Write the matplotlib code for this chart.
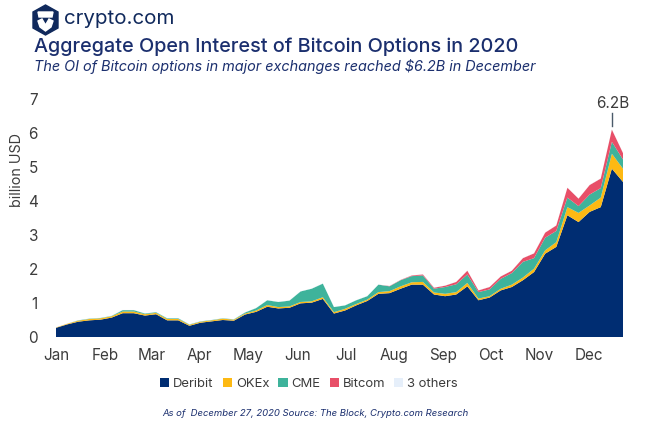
import matplotlib
matplotlib.use("Agg")
import matplotlib.pyplot as plt
import numpy as np
from matplotlib.patches import Polygon

W, H = 646, 432
FONT = "Inter"

months = ["Jan", "Feb", "Mar", "Apr", "May", "Jun", "Jul", "Aug", "Sep", "Oct", "Nov", "Dec"]
month_weeks = [0, 4.4, 8.6, 12.9, 17.3, 21.7, 26.1, 30.4, 34.8, 39.1, 43.5, 47.9]
yticks = [0, 1, 2, 3, 4, 5, 6, 7]
names = ["Deribit", "OKEx", "CME", "Bitcom", "3 others"]
colors = ["#002d72", "#fdb913", "#3eb39b", "#e84f68", "#e6effa"]

# weekly values, billion USD
deribit = [.27, .37, .45, .49, .51, .57, .70, .70, .63, .67, .49, .49, .33, .42, .46, .50, .48, .66,
           .74, .89, .84, .86, .99, 1.01, 1.12, .69, .78, .93, 1.06, 1.27, 1.29, 1.42, 1.54, 1.54,
           1.25, 1.20, 1.25, 1.49, 1.08, 1.16, 1.37, 1.47, 1.67, 1.91, 2.45, 2.65, 3.58, 3.38, 3.68,
           3.82, 4.95, 4.56]
okex = [.01, .02, .03, .04, .04, .04, .05, .05, .04, .04, .04, .04, .03, .03, .03, .04, .03, .03,
        .04, .05, .04, .04, .04, .04, .05, .04, .05, .04, .04, .05, .06, .07, .07, .08,
        .06, .07, .07, .10, .05, .04, .05, .07, .08, .10, .10, .14, .24, .27, .19, .28, .44, .39]
cme = [0, 0, .01, .01, .01, .01, .04, .04, .02, .02, .02, .02, .01, .01, .01, .01, .01, .03,
       .07, .14, .15, .17, .31, .37, .40, .15, .10, .11, .10, .22, .14, .18, .18, .19,
       .11, .20, .23, .25, .19, .20, .29, .34, .46, .31, .37, .33, .28, .20, .32, .28, .35, .27]
bitcom = [0, 0, 0, 0, 0, 0, 0, 0, 0, 0, 0, 0, 0, 0, 0, 0, 0, 0,
          0, 0, 0, 0, 0, 0, 0, 0, 0, 0, 0, 0, .01, .01, .02, .03,
          .03, .04, .07, .11, .05, .07, .07, .07, .11, .14, .15, .16, .29, .22, .28, .28, .36, .19]
others = [.005] * 52

NAVY = "#1b2f6e"
GREY = "#3c3c3c"

fig = plt.figure(figsize=(W / 100, H / 100), dpi=100, facecolor="white")
ax = fig.add_axes([56 / W, 1 - 337 / H, 567 / W, 238 / H])

ax.stackplot(np.arange(52), deribit, okex, cme, bitcom, others, colors=colors, labels=names, linewidth=0)
ax.set_xlim(0, 51)
ax.set_ylim(0, 7)
ax.set_xticks(month_weeks)
ax.set_xticklabels(months, fontsize=11, color=GREY, family=FONT)
ax.set_yticks(yticks)
ax.set_yticklabels([str(t) for t in yticks], fontsize=11, color=GREY, family=FONT)
ax.tick_params(length=0, pad=0)
ax.tick_params(axis="x", pad=8)
ax.tick_params(axis="y", pad=13)
for spine in ax.spines.values():
    spine.set_visible(False)

# peak callout
ax.plot([50, 50], [6.2, 6.6], color="#4a5a6a", lw=1, clip_on=False)
ax.text(50.1, 6.64, "6.2B", ha="center", va="bottom", fontsize=11, color=GREY, family=FONT)

fig.text(17 / W, 1 - 170 / H, "billion USD", rotation=90, ha="center", va="center",
         fontsize=10.3, color=GREY, family=FONT)

handles, labels = ax.get_legend_handles_labels()
fig.legend(handles, labels, loc="center", bbox_to_anchor=(309 / W, 1 - 384 / H), ncols=5, frameon=False,
           prop={"family": FONT, "size": 9.4}, labelcolor=GREY, handlelength=0.7, handleheight=0.7,
           handletextpad=0.3, columnspacing=0.7)

# header
logo = fig.add_axes([0, 0, 1, 1], facecolor="none")
logo.set_xlim(0, W)
logo.set_ylim(H, 0)
logo.axis("off")
hexagon = [(45.5, 5), (58, 12), (58, 28), (45.5, 35), (33, 28), (33, 12)]
logo.add_patch(Polygon(hexagon, closed=True, color="#10295c"))
logo.add_patch(Polygon([(38, 12), (53, 12), (52, 17), (39, 17)], closed=True, color="white"))
logo.add_patch(Polygon([(38, 21), (42, 19), (45.5, 25), (49, 19), (53, 21), (51, 27), (45.5, 31), (40, 27)],
                       closed=True, color="white"))

fig.text(64 / W, 1 - 19 / H, "crypto.com", ha="left", va="center", fontsize=14.8, color="#10295c", family=FONT)
fig.text(34 / W, 1 - 47 / H, "Aggregate Open Interest of Bitcoin Options in 2020", ha="left", va="center",
         fontsize=14.25, color=NAVY, family=FONT, weight="medium")
fig.text(34 / W, 1 - 66 / H, "The OI of Bitcoin options in major exchanges reached $6.2B in December",
         ha="left", va="center", fontsize=10.4, color=NAVY, family=FONT, style="italic")
fig.text(162 / W, 1 - 413 / H, "As of  December 27, 2020 Source: The Block, Crypto.com Research",
         ha="left", va="center", fontsize=6.85, color=NAVY, family=FONT, style="italic")

fig.savefig("out.png", dpi=100)
